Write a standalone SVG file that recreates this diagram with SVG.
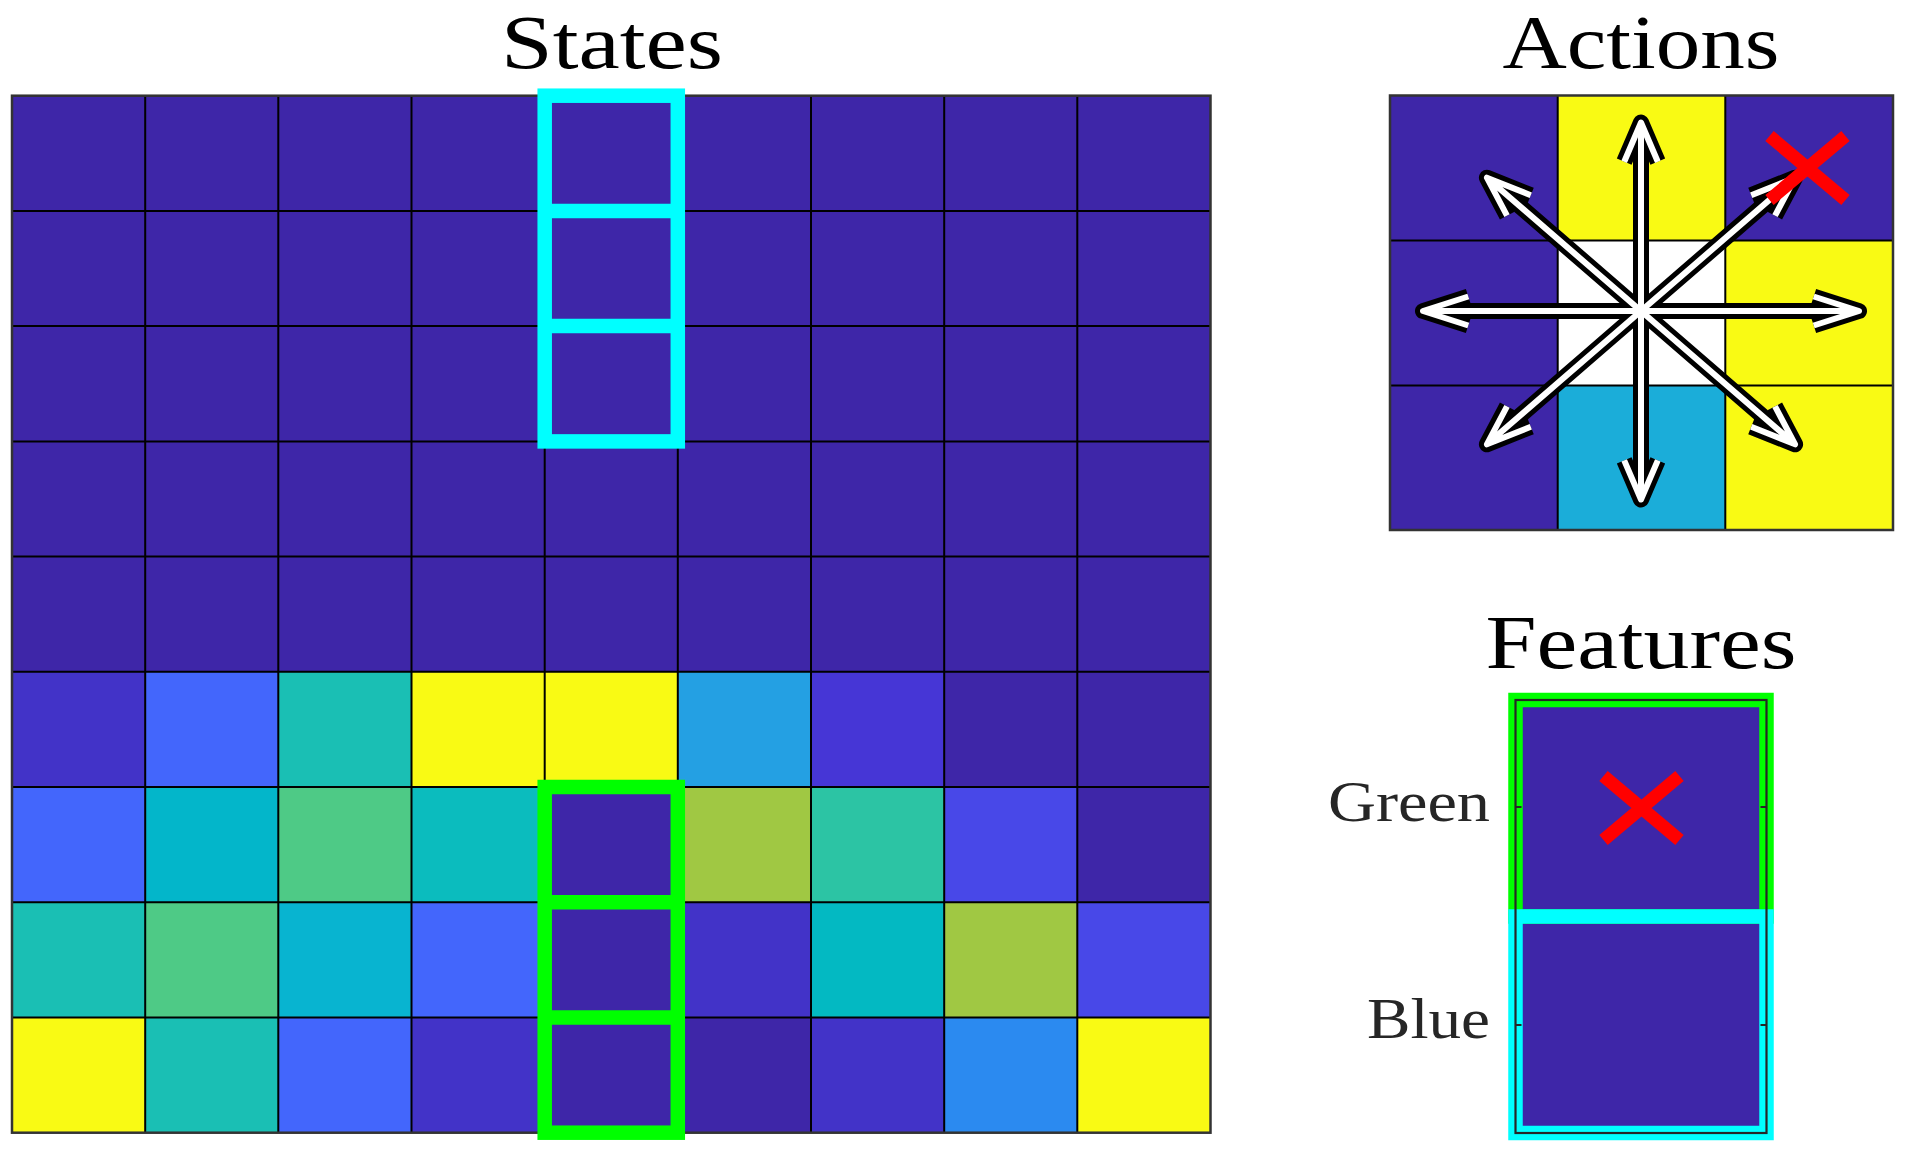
<svg xmlns="http://www.w3.org/2000/svg" width="1906" height="1152" viewBox="0 0 1906 1152">
<style>
.title{font-family:"Liberation Serif","Times New Roman",serif;font-size:76px;fill:#000;text-anchor:middle}
.lbl{font-family:"Liberation Serif","Times New Roman",serif;font-size:58px;fill:#262626;text-anchor:end}
.d{fill:#3E26A8}.p1{fill:#4233C8}.p2{fill:#4636D6}.p3{fill:#4848E8}.b1{fill:#4366FC}.b2{fill:#2B8AF0}.b3{fill:#24A0E3}
.c1{fill:#03B6CA}.c2{fill:#08B4D0}.c3{fill:#0BBCBE}.c4{fill:#03B9C2}.t1{fill:#1ABFB4}.t2{fill:#2CC4A4}.g1{fill:#4ECA86}.g2{fill:#A0C843}.y{fill:#F9FA14}
.grid{fill:none;stroke:#000;stroke-width:2}
.frame{fill:none;stroke:#333;stroke-width:2.5}
.cyan{fill:none;stroke:#00FFFF;stroke-width:14.5}
.green{fill:none;stroke:#00FF00;stroke-width:14.5}
.redx{fill:none;stroke:#FF0000;stroke-width:13;stroke-linecap:butt}
.ab{fill:none;stroke:#000;stroke-width:16;stroke-linejoin:round;stroke-linecap:butt}
.aw{fill:none;stroke:#fff;stroke-width:6;stroke-linejoin:round;stroke-linecap:butt}
</style>
<defs>
<path id="arrows" d="M1641,311 L1859,311 M1813.7,296.5 L1859,311 L1813.7,325.5
M1641,311 L1423,311 M1468.3,296.5 L1423,311 L1468.3,325.5
M1641,311 L1641,122.5 M1624.2,161.7 L1641,122.5 L1657.8,161.7
M1641,311 L1641,499.5 M1624.2,460.4 L1641,499.5 L1657.8,460.4
M1641,311 L1486.9,177.7 M1530.8,195.2 L1486.9,177.7 L1507,215.7
M1641,311 L1795.1,177.7 M1751.2,195.2 L1795.1,177.7 L1775,215.7
M1641,311 L1486.9,444.3 M1530.8,426.8 L1486.9,444.3 L1507,406.3
M1641,311 L1795.1,444.3 M1751.2,426.8 L1795.1,444.3 L1775,406.3"/>
</defs>
<rect width="1906" height="1152" fill="#fff"/>

<g id="states">
<text class="title" x="612" y="68" textLength="222" lengthAdjust="spacingAndGlyphs">States</text>
<rect class="d" x="12" y="95.7" width="1198.5" height="1037"/>
<g id="row5">
<rect class="p1" x="12" y="671.8" width="133.2" height="115.2"/>
<rect class="b1" x="145.2" y="671.8" width="133.1" height="115.2"/>
<rect class="t1" x="278.3" y="671.8" width="133.2" height="115.2"/>
<rect class="y" x="411.5" y="671.8" width="133.2" height="115.2"/>
<rect class="y" x="544.7" y="671.8" width="133.1" height="115.2"/>
<rect class="b3" x="677.8" y="671.8" width="133.2" height="115.2"/>
<rect class="p2" x="811" y="671.8" width="133.2" height="115.2"/>
</g>
<g id="row6">
<rect class="b1" x="12" y="787" width="133.2" height="115.3"/>
<rect class="c1" x="145.2" y="787" width="133.1" height="115.3"/>
<rect class="g1" x="278.3" y="787" width="133.2" height="115.3"/>
<rect class="c3" x="411.5" y="787" width="133.2" height="115.3"/>
<rect class="g2" x="677.8" y="787" width="133.2" height="115.3"/>
<rect class="t2" x="811" y="787" width="133.2" height="115.3"/>
<rect class="p3" x="944.2" y="787" width="133.1" height="115.3"/>
</g>
<g id="row7">
<rect class="t1" x="12" y="902.3" width="133.2" height="115.2"/>
<rect class="g1" x="145.2" y="902.3" width="133.1" height="115.2"/>
<rect class="c2" x="278.3" y="902.3" width="133.2" height="115.2"/>
<rect class="b1" x="411.5" y="902.3" width="133.2" height="115.2"/>
<rect class="p1" x="677.8" y="902.3" width="133.2" height="115.2"/>
<rect class="c4" x="811" y="902.3" width="133.2" height="115.2"/>
<rect class="g2" x="944.2" y="902.3" width="133.1" height="115.2"/>
<rect class="p3" x="1077.3" y="902.3" width="133.2" height="115.2"/>
</g>
<g id="row8">
<rect class="y" x="12" y="1017.5" width="133.2" height="115.2"/>
<rect class="t1" x="145.2" y="1017.5" width="133.1" height="115.2"/>
<rect class="b1" x="278.3" y="1017.5" width="133.2" height="115.2"/>
<rect class="p1" x="411.5" y="1017.5" width="133.2" height="115.2"/>
<rect class="p1" x="811" y="1017.5" width="133.2" height="115.2"/>
<rect class="b2" x="944.2" y="1017.5" width="133.1" height="115.2"/>
<rect class="y" x="1077.3" y="1017.5" width="133.2" height="115.2"/>
</g>
<path class="grid" d="M145.2,95.7V1132.7M278.3,95.7V1132.7M411.5,95.7V1132.7M544.7,95.7V1132.7M677.8,95.7V1132.7M811,95.7V1132.7M944.2,95.7V1132.7M1077.3,95.7V1132.7
M12,210.9H1210.5M12,326.1H1210.5M12,441.4H1210.5M12,556.6H1210.5M12,671.8H1210.5M12,787H1210.5M12,902.3H1210.5M12,1017.5H1210.5"/>
<rect class="frame" x="12" y="95.7" width="1198.5" height="1037"/>
<g id="cyan-window">
<rect class="cyan" x="544.7" y="95.7" width="133.1" height="345.7"/>
<path class="cyan" d="M544.7,210.9H677.8M544.7,326.1H677.8"/>
</g>
<g id="green-window">
<rect class="green" x="544.7" y="787" width="133.1" height="345.7"/>
<path class="green" d="M544.7,902.3H677.8M544.7,1017.5H677.8"/>
</g>
</g>

<g id="actions">
<text class="title" x="1641" y="68" textLength="277" lengthAdjust="spacingAndGlyphs">Actions</text>
<rect class="d" x="1390" y="95.5" width="167.7" height="145"/>
<rect class="y" x="1557.7" y="95.5" width="167.6" height="145"/>
<rect class="d" x="1725.3" y="95.5" width="167.7" height="145"/>
<rect class="d" x="1390" y="240.5" width="167.7" height="145"/>
<rect fill="#fff" x="1557.7" y="240.5" width="167.6" height="145"/>
<rect class="y" x="1725.3" y="240.5" width="167.7" height="145"/>
<rect class="d" x="1390" y="385.5" width="167.7" height="144.5"/>
<rect fill="#1BADD9" x="1557.7" y="385.5" width="167.6" height="144.5"/>
<rect class="y" x="1725.3" y="385.5" width="167.7" height="144.5"/>
<path class="grid" d="M1557.7,95.5V530M1725.3,95.5V530M1390,240.5H1893M1390,385.5H1893"/>
<rect class="frame" x="1390" y="95.5" width="503" height="434.5"/>
</g>

<g id="action-arrows">
<use href="#arrows" class="ab"/>
<use href="#arrows" class="aw"/>
</g>

<g id="blocked-action">
<path class="redx" d="M1769.5,136L1845.5,200M1845.5,136L1769.5,200"/>
</g>

<g id="features">
<text class="title" x="1641" y="668" textLength="311" lengthAdjust="spacingAndGlyphs">Features</text>
<rect class="d" x="1515.5" y="700" width="251" height="433"/>
<rect class="green" x="1515.5" y="700" width="251" height="216.5"/>
<rect class="cyan" x="1515.5" y="916.5" width="251" height="216.5"/>
<rect fill="none" stroke="#262626" stroke-width="2.2" x="1515.5" y="700" width="251" height="433"/>
<path stroke="#262626" stroke-width="2.2" d="M1515.5,807H1521.5M1766.5,807H1760.5M1515.5,1025H1521.5M1766.5,1025H1760.5"/>
<path class="redx" d="M1603.5,776L1679.5,840M1679.5,776L1603.5,840"/>
<text class="lbl" x="1490" y="821" textLength="162" lengthAdjust="spacingAndGlyphs">Green</text>
<text class="lbl" x="1490" y="1038" textLength="123" lengthAdjust="spacingAndGlyphs">Blue</text>
</g>
</svg>
